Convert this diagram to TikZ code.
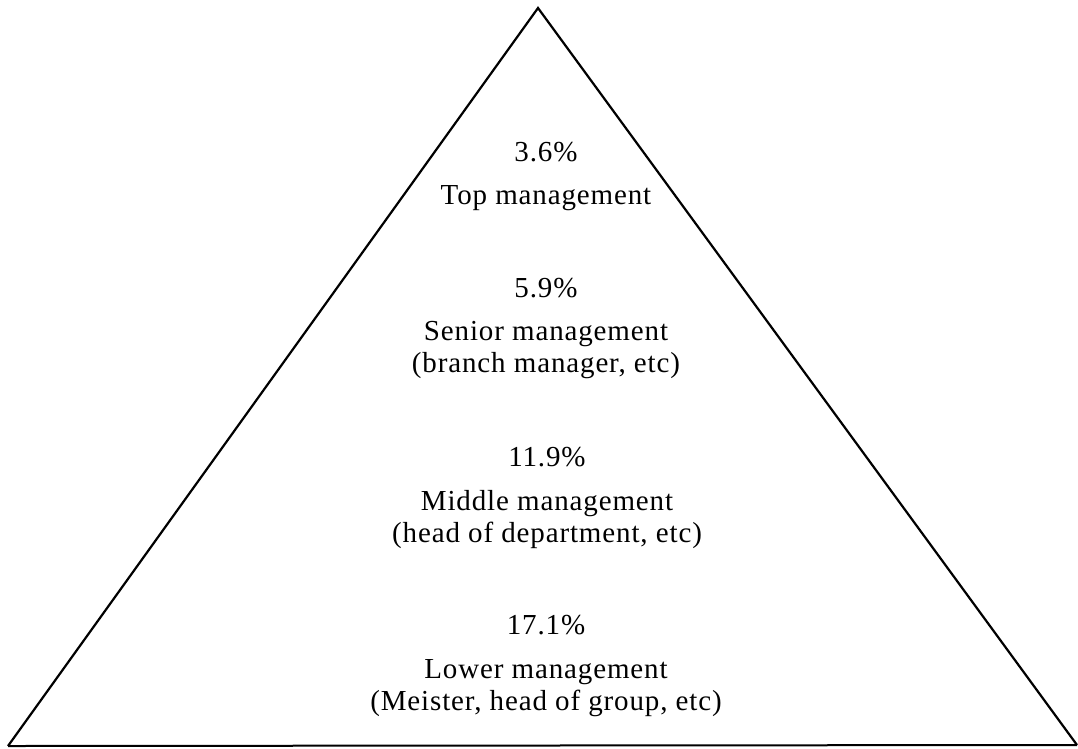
\documentclass[tikz,border=0pt]{standalone}
\usepackage{fontspec}
\setmainfont{Liberation Serif}[LetterSpace=3]
\begin{document}
\begin{tikzpicture}[x=1pt,y=-1pt,
  lbl/.style={inner sep=0pt,align=center,font=\fontsize{29}{32}\selectfont},
  edge/.style={line width=2.2pt,line join=miter}]
\useasboundingbox (0,0) rectangle (1078,748);
\coordinate (apex) at (538,8);
\coordinate (bl) at (8,746);
\coordinate (br) at (1077,745);
\draw[edge] (bl) -- (apex) -- (br);
\draw[line width=2pt] (bl) -- (br);
\node[lbl] (p1) at (546,152) {3.6\%};
\node[lbl] (t1) at (546,198) {Top management};
\node[lbl] (p2) at (546,288) {5.9\%};
\node[lbl] (t2) at (546,350) {Senior management\\(branch manager, etc)};
\node[lbl] (p3) at (547,457) {11.9\%};
\node[lbl] (t3) at (547,520) {Middle management\\(head of department, etc)};
\node[lbl] (p4) at (546,625) {17.1\%};
\node[lbl] (t4) at (546,688) {Lower management\\(Meister, head of group, etc)};
\end{tikzpicture}
\end{document}
